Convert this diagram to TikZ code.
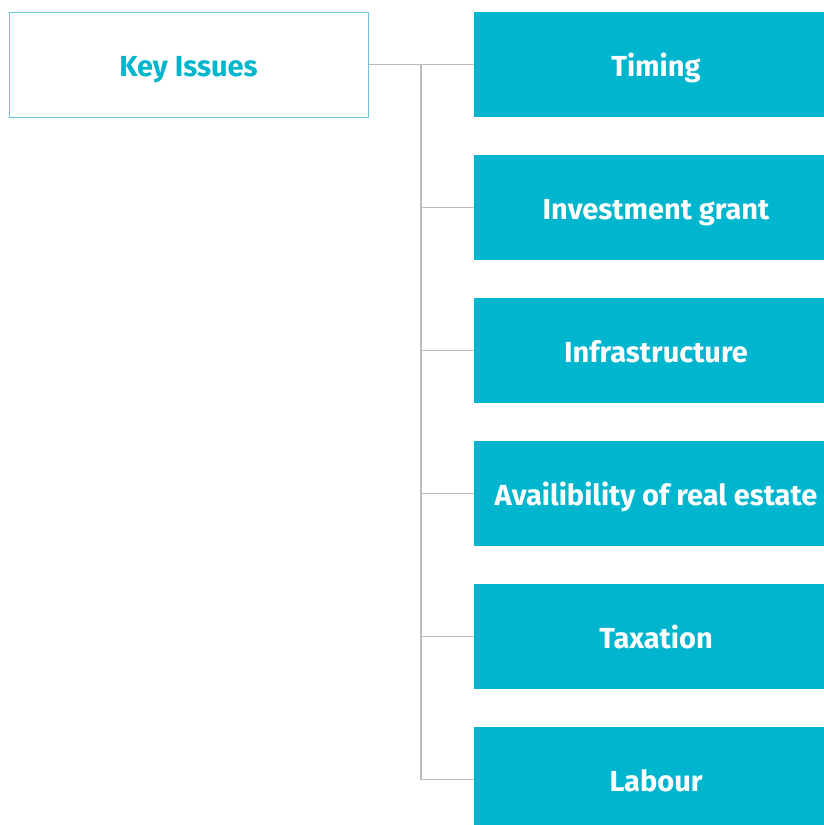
\documentclass[tikz,border=0pt]{standalone}
\usepackage{fontspec}
\setmainfont{Fira Sans}
\usepackage{tikz}

\definecolor{issuecyan}{RGB}{0,181,206}
\definecolor{keyline}{RGB}{110,200,220}
\definecolor{linkgray}{RGB}{187,187,187}

\tikzset{
	keybox/.style={draw=keyline, line width=1pt, fill=white, minimum width=359pt, minimum height=105pt, inner sep=0pt,
		text height=23pt, text depth=0pt, text=issuecyan, font=\fontsize{29}{32}\selectfont\bfseries},
	issue/.style={fill=issuecyan, minimum width=364pt, minimum height=105pt, inner sep=0pt,
		text height=23pt, text depth=0pt, text=white, font=\fontsize{29}{32}\selectfont\bfseries},
	link/.style={draw=linkgray, line width=1.4pt}
}

\begin{document}
\begin{tikzpicture}[x=1pt,y=-1pt]
	%\draw[help lines] (0,0) grid[step=100pt] (824,825);
	\clip (0,0) rectangle (824,825);
	\fill[white] (0,0) rectangle (824,825);
	\node[keybox] (key) at (188.5,64.5) {Key Issues};
	\node[issue] (timing) at (656,64.5) {Timing};
	\node[issue] (grant) at (656,207.5) {Investment grant};
	\node[issue] (infra) at (656,350.5) {Infrastructure};
	\node[issue] (estate) at (656,493.5) {Availibility of real estate};
	\node[issue] (tax) at (656,636.5) {Taxation};
	\node[issue] (labour) at (656,779.5) {Labour};
	\coordinate (trunk) at (421,64.5);
	\draw[link] (key.east) -- (timing.west);
	\draw[link] (trunk) |- (grant.west);
	\draw[link] (trunk) |- (infra.west);
	\draw[link] (trunk) |- (estate.west);
	\draw[link] (trunk) |- (tax.west);
	\draw[link] (trunk) |- (labour.west);
\end{tikzpicture}
\end{document}
